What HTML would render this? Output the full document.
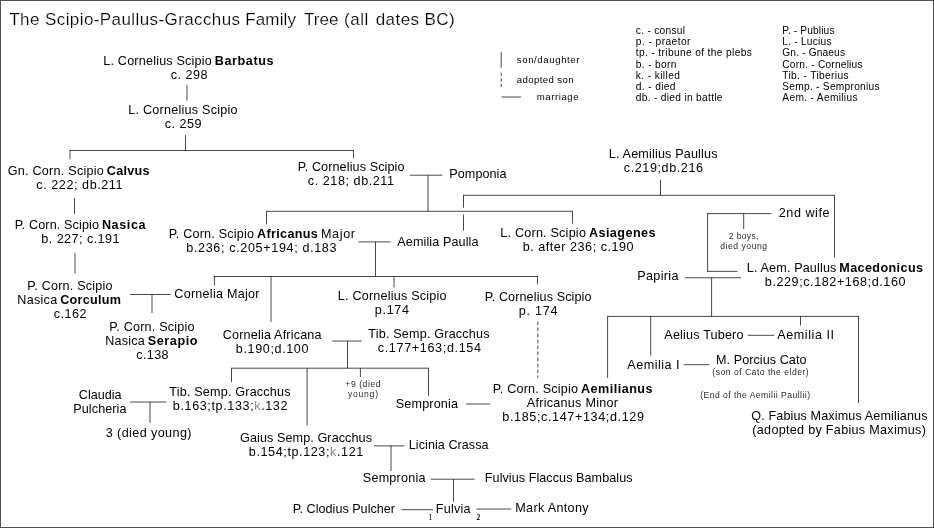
<!DOCTYPE html>
<html><head><meta charset="utf-8"><title>The Scipio-Paullus-Gracchus Family Tree</title>
<style>
html,body{margin:0;padding:0;background:#fff;}
body{width:934px;height:528px;overflow:hidden;font-family:"Liberation Sans",sans-serif;}
svg{display:block;position:absolute;left:0;top:0;will-change:transform;opacity:0.999;}
text{font-family:"Liberation Sans",sans-serif;fill:#000;white-space:pre;stroke:none;}
.t{font-size:17px;stroke:#fff;stroke-width:0.2px;}
.b{font-size:12.6px;}
.s{font-size:8.6px;fill:#2a2a2a;stroke:none;}
.l{font-size:10.2px;fill:#000;stroke:none;}
.l2{font-size:9.6px;fill:#000;stroke:none;}
.n{font-family:"Liberation Serif",serif;font-size:7.5px;fill:#000;stroke:#000;stroke-width:0.15px;}
line{stroke:#000;stroke-width:0.72;}
</style></head><body>
<svg width="934" height="528" viewBox="0 0 934 528">
<rect x="0.5" y="0.5" width="933" height="527" fill="#fff" stroke="#505050" stroke-width="1"/>

<g>
<line x1="187.0" y1="85" x2="187.0" y2="100.7"/>
<line x1="185.5" y1="135" x2="185.5" y2="150.5"/>
<line x1="69.5" y1="150.5" x2="354" y2="150.5"/>
<line x1="70.0" y1="150.5" x2="70.0" y2="159.3"/>
<line x1="353.5" y1="150.5" x2="353.5" y2="158.3"/>
<line x1="74.5" y1="198" x2="74.5" y2="214"/>
<line x1="75.0" y1="253" x2="75.0" y2="273.4"/>
<line x1="410" y1="175.2" x2="442.4" y2="175.2"/>
<line x1="428.0" y1="175.2" x2="428.0" y2="211.3"/>
<line x1="266" y1="211.3" x2="573" y2="211.3"/>
<line x1="266.5" y1="211.3" x2="266.5" y2="224.3"/>
<line x1="572.5" y1="211.3" x2="572.5" y2="223.5"/>
<line x1="660.5" y1="179.8" x2="660.5" y2="195.3"/>
<line x1="463" y1="195.3" x2="835" y2="195.3"/>
<line x1="463.5" y1="195.3" x2="463.5" y2="207.7"/>
<line x1="463.5" y1="214.5" x2="463.5" y2="230.7"/>
<line x1="834.5" y1="195.3" x2="834.5" y2="257.3"/>
<line x1="707.1" y1="213.6" x2="771.4" y2="213.6"/>
<line x1="707.6" y1="213.6" x2="707.6" y2="271.5"/>
<line x1="743.7" y1="213.6" x2="743.7" y2="229"/>
<line x1="707.1" y1="271.4" x2="737.3" y2="271.4"/>
<line x1="358.4" y1="241.9" x2="390.6" y2="241.9"/>
<line x1="375.5" y1="241.9" x2="375.5" y2="276.5"/>
<line x1="213.5" y1="276.5" x2="538" y2="276.5"/>
<line x1="214.4" y1="276.5" x2="214.4" y2="285.5"/>
<line x1="271.0" y1="276.5" x2="271.0" y2="322"/>
<line x1="394.0" y1="276.5" x2="394.0" y2="287.5"/>
<line x1="537.5" y1="276.5" x2="537.5" y2="284.4"/>
<line x1="685" y1="277.75" x2="741" y2="277.75"/>
<line x1="711.6" y1="277.75" x2="711.6" y2="316.4"/>
<line x1="607.1" y1="316.4" x2="859" y2="316.4"/>
<line x1="607.6" y1="316.4" x2="607.6" y2="378"/>
<line x1="650.7" y1="316.4" x2="650.7" y2="355.7"/>
<line x1="800.5" y1="316.4" x2="800.5" y2="325.5"/>
<line x1="858.5" y1="316.4" x2="858.5" y2="403"/>
<line x1="747.7" y1="335.3" x2="774.4" y2="335.3"/>
<line x1="683.5" y1="364.7" x2="709.4" y2="364.7"/>
<line x1="130" y1="294.5" x2="170.6" y2="294.5"/>
<line x1="152.0" y1="294.5" x2="152.0" y2="313"/>
<line x1="332.2" y1="341.0" x2="361.7" y2="341.0"/>
<line x1="347.5" y1="341" x2="347.5" y2="368.2"/>
<line x1="231" y1="368.2" x2="429" y2="368.2"/>
<line x1="231.5" y1="368.2" x2="231.5" y2="382.2"/>
<line x1="307.1" y1="368.2" x2="307.1" y2="425.5"/>
<line x1="360.4" y1="368.2" x2="360.4" y2="377"/>
<line x1="428.5" y1="368.2" x2="428.5" y2="396"/>
<line x1="130" y1="402.0" x2="166.4" y2="402.0"/>
<line x1="150.0" y1="402" x2="150.0" y2="422.8"/>
<line x1="466" y1="404.0" x2="490" y2="404.0"/>
<line x1="374" y1="445.9" x2="404.5" y2="445.9"/>
<line x1="391.0" y1="445.5" x2="391.0" y2="471"/>
<line x1="430.6" y1="479.2" x2="474.5" y2="479.2"/>
<line x1="453.5" y1="479.2" x2="453.5" y2="501.7"/>
<line x1="401.4" y1="509.7" x2="433" y2="509.7"/>
<line x1="476.5" y1="509.0" x2="511.2" y2="509.0"/>
<line x1="501.2" y1="52" x2="501.2" y2="67.7"/>
<line x1="501.5" y1="97.0" x2="521" y2="97.0"/>
<line x1="537.8" y1="321.5" x2="537.8" y2="378" stroke-dasharray="3.8 2.2"/>
<line x1="501.2" y1="72.7" x2="501.2" y2="87" stroke-dasharray="3.5 2"/>
</g>
<text class="t" x="9.30" y="25" textLength="30.10">The</text>
<text class="t" x="45.05" y="25" textLength="195.05">Scipio-Paullus-Gracchus</text>
<text class="t" x="245.30" y="25" textLength="50.60">Family</text>
<text class="t" x="303.90" y="25" textLength="34.50">Tree</text>
<text class="t" x="344.05" y="25" textLength="24.35">(all</text>
<text class="t" x="375.70" y="25" textLength="43.40">dates</text>
<text class="t" x="424.50" y="25" textLength="30.20">BC)</text>
<text class="b" x="103.30" y="65" textLength="112.20">L. Cornelius Scipio </text>
<text class="b" font-weight="bold" x="214.80" y="65" textLength="58.70">Barbatus</text>
<text class="b" x="170.80" y="79" textLength="36.70">c. 298</text>
<text class="b" x="128.30" y="114" textLength="109.20">L. Cornelius Scipio</text>
<text class="b" x="164.80" y="128" textLength="36.70">c. 259</text>
<text class="b" x="7.80" y="175" textLength="99.70">Gn. Corn. Scipio </text>
<text class="b" font-weight="bold" x="106.80" y="175" textLength="42.70">Calvus</text>
<text class="b" x="36.30" y="189" textLength="86.20">c. 222; db.211</text>
<text class="b" x="14.80" y="229" textLength="87.80">P. Corn. Scipio </text>
<text class="b" font-weight="bold" x="101.90" y="229" textLength="43.60">Nasica</text>
<text class="b" x="41.30" y="243" textLength="78.20">b. 227; c.191</text>
<text class="b" x="297.80" y="171" textLength="106.70">P. Cornelius Scipio</text>
<text class="b" x="307.80" y="185" textLength="86.20">c. 218; db.211</text>
<text class="b" x="449.30" y="178" textLength="57.20">Pomponia</text>
<text class="b" x="608.80" y="158" textLength="108.70">L. Aemilius Paullus</text>
<text class="b" x="623.80" y="172" textLength="79.20">c.219;db.216</text>
<text class="b" x="168.80" y="238" textLength="88.90">P. Corn. Scipio </text>
<text class="b" font-weight="bold" x="257.00" y="238" textLength="64.70">Africanus </text>
<text class="b" x="321.00" y="238" textLength="34.00">Major</text>
<text class="b" x="186.30" y="252" textLength="150.20">b.236; c.205+194; d.183</text>
<text class="b" x="397.30" y="246" textLength="81.20">Aemilia Paulla</text>
<text class="b" x="500.30" y="237" textLength="89.30">L. Corn. Scipio </text>
<text class="b" font-weight="bold" x="588.90" y="237" textLength="66.60">Asiagenes</text>
<text class="b" x="522.80" y="251" textLength="110.70">b. after 236; c.190</text>
<text class="b" x="778.80" y="217" textLength="50.70">2nd wife</text>
<text class="b" x="746.80" y="272" textLength="93.20">L. Aem. Paullus </text>
<text class="b" font-weight="bold" x="839.30" y="272" textLength="83.70">Macedonicus</text>
<text class="b" x="764.80" y="286" textLength="140.70">b.229;c.182+168;d.160</text>
<text class="b" x="637.30" y="280" textLength="41.20">Papiria</text>
<text class="b" x="27.30" y="290" textLength="85.20">P. Corn. Scipio</text>
<text class="b" x="17.30" y="304" textLength="43.60">Nasica </text>
<text class="b" font-weight="bold" x="60.20" y="304" textLength="60.80">Corculum</text>
<text class="b" x="53.80" y="318" textLength="32.70">c.162</text>
<text class="b" x="174.30" y="298" textLength="85.20">Cornelia Major</text>
<text class="b" x="109.30" y="331" textLength="85.20">P. Corn. Scipio</text>
<text class="b" x="105.30" y="345" textLength="43.10">Nasica </text>
<text class="b" font-weight="bold" x="147.70" y="345" textLength="49.80">Serapio</text>
<text class="b" x="136.30" y="359" textLength="32.20">c.138</text>
<text class="b" x="337.80" y="300" textLength="108.70">L. Cornelius Scipio</text>
<text class="b" x="374.80" y="314" textLength="34.20">p.174</text>
<text class="b" x="484.80" y="301" textLength="106.70">P. Cornelius Scipio</text>
<text class="b" x="518.80" y="315" textLength="38.70">p. 174</text>
<text class="b" x="222.80" y="339" textLength="98.70">Cornelia Africana</text>
<text class="b" x="235.80" y="353" textLength="72.70">b.190;d.100</text>
<text class="b" x="368.30" y="338" textLength="121.20">Tib. Semp. Gracchus</text>
<text class="b" x="377.80" y="352" textLength="103.20">c.177+163;d.154</text>
<text class="b" x="664.30" y="339" textLength="79.20">Aelius Tubero</text>
<text class="b" x="777.30" y="339" textLength="56.70">Aemilia II</text>
<text class="b" x="627.30" y="369" textLength="52.20">Aemilia I</text>
<text class="b" x="716.05" y="364" textLength="90.45">M. Porcius Cato</text>
<text class="b" x="78.80" y="399" textLength="42.70">Claudia</text>
<text class="b" x="73.30" y="413" textLength="53.20">Pulcheria</text>
<text class="b" x="169.30" y="396" textLength="121.20">Tib. Semp. Gracchus</text>
<text class="b" x="172.80" y="410" textLength="114.70">b.163;tp.133;<tspan fill="#888">k</tspan>.132</text>
<text class="b" x="105.80" y="437" textLength="85.70">3 (died young)</text>
<text class="b" x="395.80" y="408" textLength="62.20">Sempronia</text>
<text class="b" x="492.80" y="393" textLength="88.90">P. Corn. Scipio </text>
<text class="b" font-weight="bold" x="581.00" y="393" textLength="71.50">Aemilianus</text>
<text class="b" x="526.80" y="407" textLength="91.20">Africanus Minor</text>
<text class="b" x="502.30" y="421" textLength="141.70">b.185;c.147+134;d.129</text>
<text class="b" x="240.05" y="442" textLength="131.95">Gaius Semp. Gracchus</text>
<text class="b" x="248.80" y="456" textLength="114.45">b.154;tp.123;<tspan fill="#888">k</tspan>.121</text>
<text class="b" x="408.80" y="449" textLength="79.70">Licinia Crassa</text>
<text class="b" x="362.80" y="482" textLength="62.70">Sempronia</text>
<text class="b" x="484.80" y="482" textLength="147.70">Fulvius Flaccus Bambalus</text>
<text class="b" x="292.80" y="513" textLength="102.20">P. Clodius Pulcher</text>
<text class="b" x="435.80" y="513" textLength="34.70">Fulvia</text>
<text class="b" x="515.30" y="512" textLength="73.20">Mark Antony</text>
<text class="b" x="751.30" y="420" textLength="176.20">Q. Fabius Maximus Aemilianus</text>
<text class="b" x="752.30" y="434" textLength="173.60">(adopted by Fabius Maximus)</text>
<text class="s" x="728.80" y="239" textLength="29.70">2 boys,</text>
<text class="s" x="720.30" y="249" textLength="46.70">died young</text>
<text class="s" x="345.30" y="387" textLength="35.20">+9 (died</text>
<text class="s" x="347.90" y="397" textLength="30.10">young)</text>
<text class="s" x="712.30" y="375" textLength="96.40">(son of Cato the elder)</text>
<text class="s" x="700.30" y="398" textLength="109.70">(End of the Aemilii Paullii)</text>
<text class="l2" x="516.80" y="63" textLength="62.70">son/daughter</text>
<text class="l2" x="516.80" y="83" textLength="56.70">adopted son</text>
<text class="l2" x="536.80" y="100" textLength="41.70">marriage</text>
<text class="l" x="635.80" y="34" textLength="49.20">c. - consul</text>
<text class="l" x="635.80" y="45" textLength="54.70">p. - praetor</text>
<text class="l" x="635.80" y="56" textLength="116.00">tp. - tribune of the plebs</text>
<text class="l" x="635.80" y="67.5" textLength="40.70">b. - born</text>
<text class="l" x="635.80" y="78.5" textLength="44.10">k. - killed</text>
<text class="l" x="635.80" y="89.5" textLength="39.70">d. - died</text>
<text class="l" x="635.80" y="100.5" textLength="86.70">db. - died in battle</text>
<text class="l" x="782.30" y="34" textLength="52.20">P. - Publius</text>
<text class="l" x="782.30" y="45" textLength="49.20">L. - Lucius</text>
<text class="l" x="782.30" y="56" textLength="62.70">Gn. - Gnaeus</text>
<text class="l" x="782.30" y="67.5" textLength="80.20">Corn. - Cornelius</text>
<text class="l" x="782.30" y="78.5" textLength="66.20">Tib. - Tiberius</text>
<text class="l" x="782.30" y="89.5" textLength="97.20">Semp. - Sempronius</text>
<text class="l" x="782.30" y="100.5" textLength="75.20">Aem. - Aemilius</text>
<text class="n" x="428.5" y="519.5">1</text>
<text class="n" x="476.5" y="519.5">2</text>
</svg></body></html>
